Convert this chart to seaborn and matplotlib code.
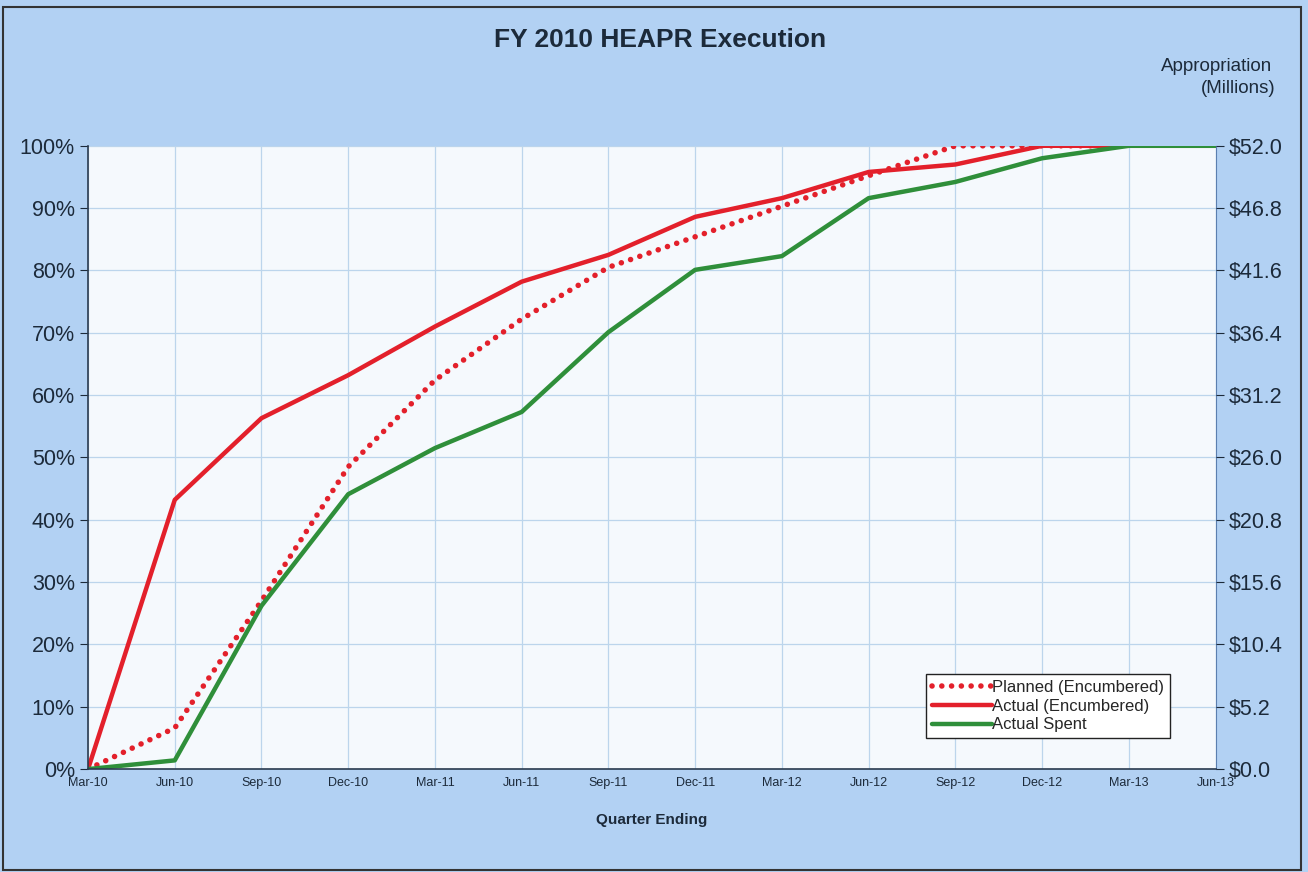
import matplotlib
matplotlib.use("Agg")
import matplotlib.pyplot as plt
import matplotlib.ticker as mticker
import numpy as np
import pandas as pd
import seaborn as sns
from matplotlib.patches import Rectangle

sns.set_style("white")
plt.rcParams["font.family"] = ["Liberation Sans", "DejaVu Sans"]

quarters = ["Mar-10", "Jun-10", "Sep-10", "Dec-10", "Mar-11", "Jun-11", "Sep-11",
            "Dec-11", "Mar-12", "Jun-12", "Sep-12", "Dec-12", "Mar-13", "Jun-13"]
planned = [0, 6.6, 27, 48.5, 62.4, 72.2, 80.5, 85.4, 90.3, 95.2, 100, 100, 100, None]
actual_enc = [0, 43.2, 56.3, 63.2, 71, 78.2, 82.5, 88.6, 91.6, 95.8, 97, 100, 100, 100]
actual_spent = [0, 1.4, 26.2, 44.1, 51.5, 57.3, 70.1, 80.1, 82.3, 91.6, 94.2, 98, 100, 100]
appropriation = 52.0

RED = "#e3202b"
GREEN = "#2f8f3a"
FIG_BG = "#b2d1f3"
TXT = "#1c2a3a"

df = pd.DataFrame({
    "q": np.arange(len(quarters)),
    "Planned (Encumbered)": planned,
    "Actual (Encumbered)": actual_enc,
    "Actual Spent": actual_spent,
})

fig = plt.figure(figsize=(13.08, 8.72), dpi=100, facecolor=FIG_BG)
ax = fig.add_axes([0.0673, 0.118, 0.8620, 0.7148])
ax.set_facecolor("#f5f9fd")

# dotted planned line, then the two actual lines on top
sns.lineplot(data=df, x="q", y="Planned (Encumbered)", ax=ax, color=RED,
             linewidth=4.0, label="Planned (Encumbered)")
ax.lines[-1].set_linestyle((0, (0.01, 1.75)))
ax.lines[-1].set_dash_capstyle("round")
sns.lineplot(data=df, x="q", y="Actual (Encumbered)", ax=ax, color=RED,
             linewidth=3.2, label="Actual (Encumbered)")
sns.lineplot(data=df, x="q", y="Actual Spent", ax=ax, color=GREEN,
             linewidth=3.2, label="Actual Spent")

ax.set_xlim(0, len(quarters) - 1)
ax.set_ylim(0, 100)
ax.set_xticks(df["q"])
ax.set_xticklabels(quarters, fontsize=9, color=TXT)
ax.set_yticks(np.arange(0, 101, 10))
ax.yaxis.set_major_formatter(mticker.FuncFormatter(lambda v, _: f"{v:.0f}%"))
ax.tick_params(axis="y", labelsize=15.5, colors=TXT, length=6, direction="out")
ax.tick_params(axis="x", length=5, direction="inout", colors=TXT)
ax.grid(True, color="#bcd5ec", linewidth=0.9)
ax.set_axisbelow(True)
ax.set_xlabel("Quarter Ending", fontsize=11, fontweight="bold", color=TXT, labelpad=17)
ax.set_ylabel("")

for side in ["left", "bottom"]:
    ax.spines[side].set_color("#2b3b4f")
    ax.spines[side].set_linewidth(1.2)
ax.spines["top"].set_visible(False)
ax.spines["right"].set_color("#5b7fb0")

# right axis: appropriation in millions
ax2 = ax.twinx()
ax2.set_ylim(0, appropriation)
ax2.set_yticks(np.linspace(0, appropriation, 11))
ax2.yaxis.set_major_formatter(mticker.FuncFormatter(lambda v, _: f"${v:.1f}"))
ax2.tick_params(axis="y", labelsize=15.5, colors=TXT, length=6)
for s in ax2.spines.values():
    s.set_visible(False)

leg = ax.legend(loc="lower right", bbox_to_anchor=(0.967, 0.036), frameon=True,
                fontsize=12, handlelength=3.6, handletextpad=0.0,
                borderpad=0.35, labelspacing=0.22, fancybox=False)
leg.get_frame().set_edgecolor("#222222")
leg.get_frame().set_linewidth(1.0)
leg.get_frame().set_facecolor("white")
leg.get_frame().set_alpha(1)

fig.text(0.505, 0.954, "FY 2010 HEAPR Execution", ha="center", va="center",
         fontsize=19, fontweight="bold", color=TXT)
fig.text(0.973, 0.924, "Appropriation", ha="right", va="center", fontsize=13.5, color=TXT)
fig.text(0.975, 0.899, "(Millions)", ha="right", va="center", fontsize=13.5, color=TXT)

fig.patches.append(Rectangle((0.002, 0.002), 0.993, 0.99, transform=fig.transFigure,
                             fill=False, edgecolor="#333333", linewidth=1.5))

fig.savefig("out.png", dpi=100, facecolor=FIG_BG)
